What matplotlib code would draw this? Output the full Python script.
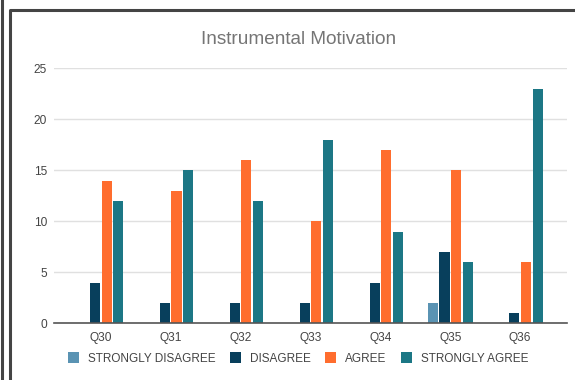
import matplotlib
matplotlib.use("Agg")
import matplotlib.pyplot as plt
from matplotlib.lines import Line2D
from matplotlib.patches import Patch
import numpy as np

plt.rcParams['font.family'] = ['Liberation Sans', 'DejaVu Sans']

questions = ["Q30", "Q31", "Q32", "Q33", "Q34", "Q35", "Q36"]
strongly_disagree = [0, 0, 0, 0, 0, 2, 0]
disagree = [4, 2, 2, 2, 4, 7, 1]
agree = [14, 13, 16, 10, 17, 15, 6]
strongly_agree = [12, 15, 12, 18, 9, 6, 23]
series_names = ["STRONGLY DISAGREE", "DISAGREE", "AGREE", "STRONGLY AGREE"]
yticks = [0, 5, 10, 15, 20, 25]

colors = ["#5a93b3", "#083f5c", "#ff6d2e", "#1c7785"]
series = [strongly_disagree, disagree, agree, strongly_agree]

fig = plt.figure(figsize=(5.75, 3.8), dpi=100)
ax = fig.add_axes([54 / 575, 1 - 323.3 / 380, (567 - 54) / 575, (323.3 - 68.3) / 380])

x = np.arange(len(questions))
slot = 0.166
width = 0.145
for i, (vals, c) in enumerate(zip(series, colors)):
    offs = (i - 1.5) * slot
    ax.bar(x + offs, vals, width=width, color=c, label=series_names[i], zorder=3)

ax.set_xlim(-0.67, len(questions) - 1 + 0.67)
ax.set_ylim(0, 25)
ax.set_yticks(yticks)
ax.set_xticks(x)
ax.set_xticklabels(questions)
ax.grid(axis='y', color='#e0e0e0', linewidth=1, zorder=0)
for s in ['top', 'right', 'left']:
    ax.spines[s].set_visible(False)
ax.spines['bottom'].set_color('#555555')
ax.spines['bottom'].set_linewidth(1.2)
ax.spines['bottom'].set_zorder(4)
ax.tick_params(axis='both', length=0, labelsize=8.6, labelcolor='#444444')
ax.tick_params(axis='y', pad=5)
ax.tick_params(axis='x', pad=6)

fig.text(299 / 575, 1 - 40 / 380, "Instrumental Motivation", ha='center', va='center',
         fontsize=13.7, color='#757575')

handles = [Patch(facecolor=c, edgecolor='none') for c in colors]
fig.legend(handles, series_names, loc='center', bbox_to_anchor=(298 / 575, 1 - 358.5 / 380),
           ncol=4, frameon=False, fontsize=8.5, handlelength=0.95, handleheight=1.0,
           handletextpad=0.75, columnspacing=1.22, labelcolor='#444444')

# outer frame lines
fig.add_artist(Line2D([1.6 / 575, 1.6 / 575], [0, 1], transform=fig.transFigure,
                      color='#444444', linewidth=2.2))
fig.add_artist(Line2D([9.8 / 575, 9.8 / 575, 1], [0, 1 - 9.8 / 380, 1 - 9.8 / 380],
                      transform=fig.transFigure, color='#444444', linewidth=2.2))

fig.savefig("out.png", dpi=100)
